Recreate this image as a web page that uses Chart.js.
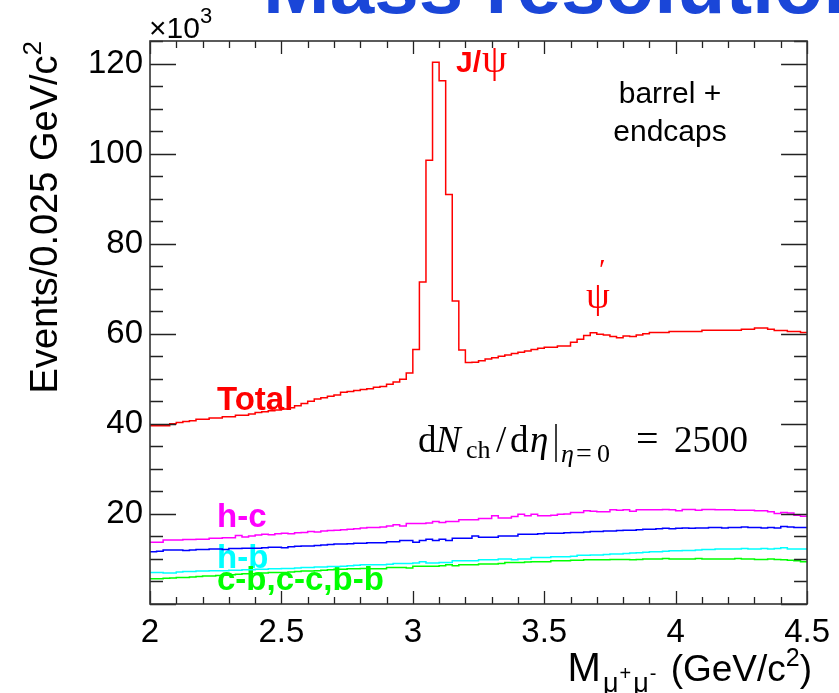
<!DOCTYPE html>
<html><head><meta charset="utf-8">
<script src="https://cdn.jsdelivr.net/npm/chart.js@4/dist/chart.umd.min.js"></script>
<style>html,body{margin:0;padding:0;background:#fff;overflow:hidden}#wrap{position:relative;width:839px;height:693px}</style>
</head><body><div id="wrap"><canvas id="c" width="839" height="693"></canvas></div>
<script>
// Histogram definition: 100 bins of 0.025 GeV/c^2 from 2.0 to 4.5
const massMin = 2.0, massMax = 4.5, binWidth = 0.025;
const xTickValues = [2, 2.5, 3, 3.5, 4, 4.5];
const xTickLabels = ['2', '2.5', '3', '3.5', '4', '4.5'];
const yTickValues = [20, 40, 60, 80, 100, 120];
const yTickLabels = ['20', '40', '60', '80', '100', '120'];

// Events per bin, in units of 10^3
const total = [39.6,39.6,39.6,40.0,40.3,40.5,40.7,41.0,41.0,41.3,
 41.3,41.6,41.6,41.9,41.9,42.2,42.5,42.7,42.9,43.1,
 43.3,43.6,44.0,44.5,45.0,45.5,45.8,46.1,46.4,47.0,
 47.2,47.4,47.6,47.8,48.1,48.3,48.8,49.3,49.9,51.3,
 56.5,71.5,98.5,120.3,116.2,90.9,67.3,56.4,53.6,53.7,
 54.0,54.4,54.7,55.0,55.3,55.6,55.9,56.2,56.5,56.8,
 57.0,57.0,57.3,57.3,58.1,58.8,59.6,60.2,59.9,59.7,
 59.4,59.1,59.5,59.4,59.7,60.0,60.3,60.3,60.3,60.5,
 60.5,60.5,60.5,60.5,60.8,60.8,60.8,60.8,60.8,60.8,
 61.0,61.0,61.3,61.3,61.0,60.7,60.7,60.5,60.5,60.3];
const hc = [13.7,13.7,14.2,14.2,14.2,14.3,14.3,14.4,14.4,14.6,
 14.6,14.7,14.7,15.2,14.9,15.1,15.3,15.5,15.4,15.6,
 15.7,15.6,15.8,15.9,16.1,16.0,16.2,16.3,16.4,16.5,
 16.6,16.7,16.9,17.0,17.0,17.1,17.3,17.6,17.3,17.9,
 17.9,17.9,18.0,18.3,18.1,18.3,18.3,18.7,18.7,18.7,
 19.0,19.0,19.6,19.1,19.1,19.4,19.9,19.6,19.9,19.6,
 19.6,19.7,19.9,20.0,20.3,20.3,20.7,20.6,20.5,20.5,
 20.9,20.8,20.9,20.6,20.9,20.9,20.9,20.9,21.0,20.9,
 20.7,21.0,21.0,20.8,21.0,21.0,20.9,20.9,20.9,20.8,
 20.8,20.8,20.7,20.7,20.5,20.1,20.3,20.2,19.7,19.5];
const blueSeries = [11.6,11.7,12.0,12.0,12.0,11.9,12.0,12.1,12.1,12.2,
 12.2,12.1,12.3,12.3,12.4,12.4,12.4,12.5,12.6,12.6,
 12.5,12.7,12.8,12.9,12.9,13.0,13.1,13.2,13.3,13.3,
 13.4,13.5,13.5,13.6,13.6,13.6,13.8,13.8,14.1,14.1,
 13.7,14.1,14.4,14.1,14.4,14.1,14.6,14.6,14.6,15.1,
 14.8,14.8,14.8,15.1,15.1,15.1,15.5,15.5,15.5,15.6,
 15.7,15.7,15.7,15.8,15.9,15.9,16.0,16.1,16.1,16.2,
 16.2,16.3,16.4,16.4,16.5,16.6,16.6,16.7,16.8,16.7,
 16.8,16.9,16.8,16.9,16.9,17.0,17.0,16.9,17.0,17.0,
 17.1,17.0,17.0,16.9,17.0,16.9,17.2,17.1,17.0,17.0];
const hb = [7.0,7.0,6.9,6.9,7.1,7.2,7.2,7.3,7.3,7.4,
 7.4,7.4,7.5,7.5,7.6,7.6,7.7,7.7,7.8,7.8,
 7.9,7.9,8.0,8.1,8.1,8.2,8.2,8.3,8.3,8.4,
 8.5,8.6,8.7,8.7,8.7,8.7,8.8,9.0,9.0,9.0,
 9.1,9.4,9.1,9.1,9.2,9.2,9.6,9.6,9.6,9.6,
 9.8,9.8,9.8,10.0,10.0,9.8,10.0,10.0,10.3,10.3,
 10.3,10.5,10.5,10.5,10.6,10.8,10.8,10.9,10.9,11.0,
 11.1,11.1,11.2,11.3,11.4,11.5,11.6,11.6,11.7,11.8,
 11.8,11.9,11.9,12.0,12.1,12.1,12.2,12.2,12.2,12.2,
 12.3,12.2,12.2,12.3,12.2,12.3,12.5,12.2,12.2,12.2];
const cbccbb = [5.6,5.6,5.7,5.8,5.9,5.9,6.0,6.1,6.2,6.2,
 6.3,6.4,6.5,6.6,6.7,6.7,6.8,6.9,7.0,7.0,
 7.0,7.1,7.2,7.3,7.3,7.4,7.5,7.6,7.7,7.7,
 7.8,7.8,7.9,7.8,7.8,7.8,8.1,8.1,8.1,8.0,
 8.4,8.4,8.4,8.4,8.5,8.7,8.5,8.7,8.7,8.7,
 8.9,8.9,8.9,9.0,9.2,9.2,9.2,9.3,9.4,9.4,
 9.4,9.6,9.6,9.6,9.7,9.7,9.8,9.8,9.8,9.8,
 9.9,9.9,9.9,9.8,9.9,10.0,10.0,10.0,10.1,10.0,
 10.0,10.0,10.0,10.1,10.0,10.0,10.0,10.0,10.0,10.1,
 10.0,10.0,9.9,9.9,10.0,9.9,9.8,9.7,9.6,9.4];

const SANS = '"Liberation Sans", Arial, Helvetica, sans-serif';
const SERIF = '"Liberation Serif", "Times New Roman", serif';

function histPoints(values) {
  const pts = values.map((v, i) => ({ x: +(massMin + i * binWidth).toFixed(3), y: v }));
  pts.push({ x: massMax, y: values[values.length - 1] });
  return pts;
}
function histDataset(values, color) {
  return { data: histPoints(values), borderColor: color, borderWidth: 1.5, pointRadius: 0,
           stepped: 'before', fill: false, tension: 0 };
}

function drawParts(ctx, parts, x, y) {
  let cx = x;
  for (const p of parts) {
    ctx.font = p.font;
    ctx.fillStyle = p.color || '#000';
    ctx.fillText(p.t, cx, y + (p.dy || 0));
    cx += ctx.measureText(p.t).width + (p.gap || 0);
  }
  return cx;
}
function partsWidth(ctx, parts) {
  let w = 0;
  for (const p of parts) { ctx.font = p.font; w += ctx.measureText(p.t).width + (p.gap || 0); }
  return w;
}

const textPlugin = {
  id: 'texts',
  beforeDatasetsDraw(chart) {
    const ctx = chart.ctx;
    ctx.save();
    ctx.textAlign = 'left';
    ctx.textBaseline = 'alphabetic';
    // slide title fragment
    ctx.font = 'bold 80px ' + SANS;
    ctx.fillStyle = '#1a46d8';
    ctx.fillText('Mass resolution', 263, 13);
    // x10^3
    drawParts(ctx, [
      { t: '\u00d710', font: '30px ' + SANS },
      { t: '3', font: '22px ' + SANS, dy: -15 }
    ], 149, 38);
    // J/psi
    drawParts(ctx, [
      { t: 'J/', font: 'bold 30px ' + SANS, color: '#ff0000', gap: 1 },
      { t: '\u03c8', font: '40px ' + SERIF, color: '#ff0000' }
    ], 456, 72);
    // barrel + endcaps
    ctx.textAlign = 'center';
    ctx.font = '30px ' + SANS;
    ctx.fillStyle = '#000';
    ctx.fillText('barrel +', 670, 103);
    ctx.fillText('endcaps', 670, 141);
    ctx.textAlign = 'left';
    // psi'
    ctx.font = '38px ' + SERIF;
    ctx.fillStyle = '#ff0000';
    ctx.fillText('\u03c8', 586, 308);
    ctx.font = '30px ' + SERIF;
    ctx.fillText('\u2032', 599, 279);
    // Total
    ctx.font = 'bold 33px ' + SANS;
    ctx.fillStyle = '#ff0000';
    ctx.fillText('Total', 217, 410);
    // component labels
    ctx.fillStyle = '#ff00ff';
    ctx.fillText('h-c', 217, 527);
    ctx.fillStyle = '#00ffff';
    ctx.fillText('h-b', 217, 568);
    ctx.fillStyle = '#00ff00';
    ctx.fillText('c-b,c-c,b-b', 217, 590);
    // dN/deta formula
    ctx.fillStyle = '#000';
    const by = 452;
    const put = (t, font, x, dy) => { ctx.font = font; ctx.fillText(t, x, by + (dy || 0)); };
    put('d', '37px ' + SERIF, 418);
    put('N', 'italic 37px ' + SERIF, 436);
    put('ch', '26px ' + SERIF, 466, 6);
    put('/', '37px ' + SERIF, 496);
    put('d', '37px ' + SERIF, 510);
    put('\u03b7', 'italic 37px ' + SERIF, 530);
    ctx.strokeStyle = '#000'; ctx.lineWidth = 1.5;
    ctx.beginPath(); ctx.moveTo(556, 424); ctx.lineTo(556, 462); ctx.stroke();
    put('\u03b7', 'italic 26px ' + SERIF, 561, 10);
    put('=', '28px ' + SERIF, 576, 10);
    put('0', '26px ' + SERIF, 597, 10);
    put('=', '40px ' + SERIF, 636, 0);
    put('2500', '37px ' + SERIF, 674);
    // y axis title (rotated)
    ctx.save();
    ctx.translate(57, 41);
    ctx.rotate(-Math.PI / 2);
    const ytParts = [
      { t: 'Events/0.025 GeV/c', font: '38px ' + SANS },
      { t: '2', font: '26px ' + SANS, dy: -16 }
    ];
    const yw = partsWidth(ctx, ytParts);
    drawParts(ctx, ytParts, -yw, 0);
    ctx.restore();
    // x axis title
    const xtParts = [
      { t: 'M', font: '40px ' + SANS, gap: 2 },
      { t: '\u03bc', font: '27px ' + SANS, dy: 11, gap: 1 },
      { t: '+', font: '20px ' + SANS, dy: -1, gap: 2 },
      { t: '\u03bc', font: '27px ' + SANS, dy: 11, gap: 1 },
      { t: '-', font: '20px ' + SANS, dy: -1, gap: 4 },
      { t: ' (GeV/c', font: '37px ' + SANS },
      { t: '2', font: '25px ' + SANS, dy: -15 },
      { t: ')', font: '37px ' + SANS }
    ];
    const xw = partsWidth(ctx, xtParts);
    drawParts(ctx, xtParts, 812 - xw, 681);
    ctx.restore();
  }
};

const framePlugin = {
  id: 'frame',
  afterDatasetsDraw(chart) {
    const ctx = chart.ctx;
    const { left, right, top, bottom } = chart.chartArea;
    const xs = chart.scales.x, ys = chart.scales.y;
    ctx.save();
    ctx.strokeStyle = '#222';
    ctx.lineWidth = 1.3;
    ctx.beginPath();
    // x ticks every 0.1, major every 0.5
    for (let k = 0; k <= 25; k++) {
      const v = massMin + k * 0.1;
      const px = Math.round(xs.getPixelForValue(v)) + 0.5;
      const len = (k % 5 === 0) ? 13 : 7;
      ctx.moveTo(px, bottom); ctx.lineTo(px, bottom - len);
      ctx.moveTo(px, top); ctx.lineTo(px, top + len);
    }
    // y ticks every 5, major every 20
    for (let v = 0; v <= 125; v += 5) {
      const py = Math.round(ys.getPixelForValue(v)) + 0.5;
      const len = (v % 20 === 0) ? 26 : 13;
      ctx.moveTo(left, py); ctx.lineTo(left + len, py);
      ctx.moveTo(right, py); ctx.lineTo(right - len, py);
    }
    ctx.stroke();
    ctx.lineWidth = 1.6;
    ctx.strokeStyle = '#333';
    ctx.strokeRect(left, top, right - left, bottom - top);
    ctx.restore();
  }
};

new Chart(document.getElementById('c').getContext('2d'), {
  type: 'line',
  data: {
    datasets: [
      histDataset(total, '#ff0000'),
      histDataset(hc, '#ff00ff'),
      histDataset(blueSeries, '#0000ff'),
      histDataset(hb, '#00ffff'),
      histDataset(cbccbb, '#00ff00')
    ]
  },
  options: {
    responsive: false,
    animation: false,
    devicePixelRatio: 1,
    layout: { padding: { top: 41, right: 26, left: 0, bottom: 0 } },
    plugins: { legend: { display: false }, tooltip: { enabled: false }, title: { display: false } },
    scales: {
      x: {
        type: 'linear', min: massMin, max: massMax,
        afterFit: s => { s.height = 89; },
        grid: { display: false, drawTicks: false },
        border: { display: false },
        afterBuildTicks: s => { s.ticks = xTickValues.map(v => ({ value: v })); },
        ticks: {
          font: { family: SANS, size: 33 }, color: '#000', padding: 9,
          maxRotation: 0, autoSkip: false,
          callback: v => { const i = xTickValues.indexOf(v); return i >= 0 ? xTickLabels[i] : ''; }
        }
      },
      y: {
        min: 0, max: 125,
        afterFit: s => { s.width = 150; },
        grid: { display: false, drawTicks: false },
        border: { display: false },
        afterBuildTicks: s => { s.ticks = yTickValues.map(v => ({ value: v })); },
        ticks: {
          font: { family: SANS, size: 33 }, color: '#000', padding: 7,
          callback: v => { const i = yTickValues.indexOf(v); return i >= 0 ? yTickLabels[i] : ''; }
        }
      }
    }
  },
  plugins: [textPlugin, framePlugin]
});
</script>
</body></html>
